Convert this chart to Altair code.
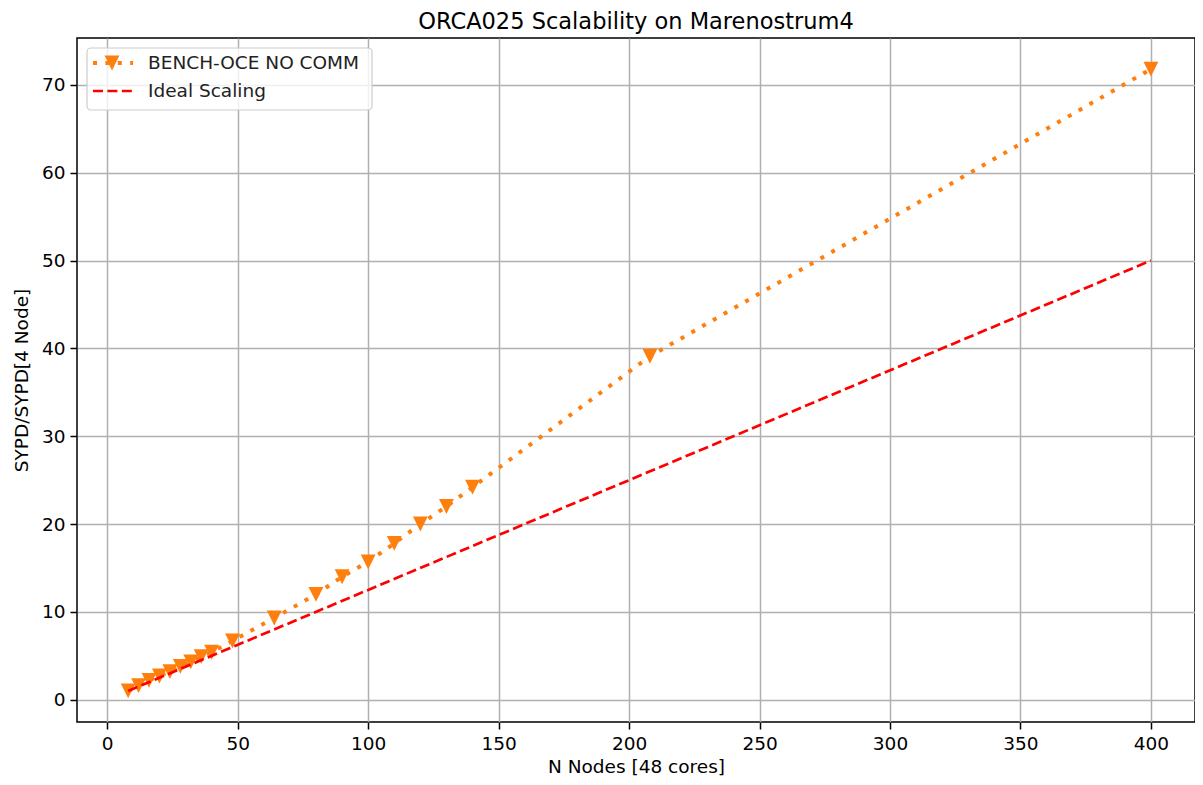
import altair as alt
import pandas as pd

# ---- data ----
nodes = [8, 12, 16, 20, 24, 28, 32, 36, 40, 48, 64, 80, 90, 100, 110, 120, 130, 140, 208, 400]
speedup = [1.0, 1.6, 2.2, 2.7, 3.2, 3.8, 4.3, 4.9, 5.4, 6.7, 9.3, 12.0, 14.0, 15.7, 17.8, 20.0, 22.0, 24.2, 39.1, 71.8]
ideal_nodes = [8, 400]
ideal_speedup = [1.0, 50.0]
x_ticks = [0, 50, 100, 150, 200, 250, 300, 350, 400]
y_ticks = [0, 10, 20, 30, 40, 50, 60, 70]
series_names = ["BENCH-OCE NO COMM", "Ideal Scaling"]

bench = pd.DataFrame({"x": nodes, "y": speedup})
ideal = pd.DataFrame({"x": ideal_nodes, "y": ideal_speedup})

ORANGE = "#ff7f0e"
RED = "#ff0000"
FONT = "DejaVu Sans"
FS = 18.5
TRI = "M0,1L-1,-1L1,-1Z"
TRI_SIZE = 220
DOT_W, DOT_DASH = 4, [4, 8.4]
DASH_W, DASH_DASH = 2.7, [10, 4.4]

xs = alt.Scale(domain=[-11.6, 416.9], nice=False, zero=False)
ys = alt.Scale(domain=[-2.54, 75.34], nice=False, zero=False)

xenc = alt.X("x:Q", scale=xs, title="N Nodes [48 cores]",
             axis=alt.Axis(values=x_ticks, format="d", grid=True))
yenc = alt.Y("y:Q", scale=ys, title="SYPD/SYPD[4 Node]",
             axis=alt.Axis(values=y_ticks, format="d", grid=True))

bench_line = alt.Chart(bench).mark_line(
    color=ORANGE, strokeWidth=DOT_W, strokeDash=DOT_DASH, strokeCap="butt"
).encode(x=xenc, y=yenc)

bench_pts = alt.Chart(bench).mark_point(
    shape=TRI, filled=True, size=TRI_SIZE, color=ORANGE, opacity=1
).encode(x="x:Q", y="y:Q")

ideal_line = alt.Chart(ideal).mark_line(
    color=RED, strokeWidth=DASH_W, strokeDash=DASH_DASH
).encode(x="x:Q", y="y:Q")

# ---- manual legend (upper left) ----
one = pd.DataFrame({"a": [0]})
leg_box = alt.Chart(one).mark_rect(
    fill="white", fillOpacity=0.8, stroke="#cccccc", strokeWidth=1.2, cornerRadius=4
).encode(x=alt.value(10), x2=alt.value(295), y=alt.value(10), y2=alt.value(72))

leg_l1 = alt.Chart(one).mark_rule(
    color=ORANGE, strokeWidth=DOT_W, strokeDash=DOT_DASH, strokeCap="butt"
).encode(x=alt.value(16), x2=alt.value(56), y=alt.value(25))
leg_p1 = alt.Chart(one).mark_point(
    shape=TRI, filled=True, size=TRI_SIZE, color=ORANGE, opacity=1
).encode(x=alt.value(35), y=alt.value(25))
leg_l2 = alt.Chart(one).mark_rule(
    color=RED, strokeWidth=DASH_W, strokeDash=DASH_DASH
).encode(x=alt.value(16), x2=alt.value(56), y=alt.value(53))
leg_t1 = alt.Chart(pd.DataFrame({"t": [series_names[0]]})).mark_text(
    align="left", baseline="middle", font=FONT, fontSize=FS, color="#222222"
).encode(x=alt.value(71), y=alt.value(25), text="t:N")
leg_t2 = alt.Chart(pd.DataFrame({"t": [series_names[1]]})).mark_text(
    align="left", baseline="middle", font=FONT, fontSize=FS, color="#222222"
).encode(x=alt.value(71), y=alt.value(53), text="t:N")

chart = alt.layer(
    bench_line, bench_pts, ideal_line, leg_box, leg_l1, leg_p1, leg_l2, leg_t1, leg_t2
).properties(
    width=1118, height=684,
    title=alt.TitleParams("ORCA025 Scalability on Marenostrum4", font=FONT, fontSize=22.5,
                          fontWeight="normal", color="black", anchor="middle", offset=5),
    autosize=alt.AutoSizeParams(type="none"),
    padding={"left": 69, "top": 30, "right": 0, "bottom": 55},
).configure_view(
    stroke="black", strokeWidth=1.5
).configure_axis(
    labelFont=FONT, titleFont=FONT, labelFontSize=FS, titleFontSize=FS,
    labelColor="black", titleColor="black", titleFontWeight="normal",
    gridColor="#b0b0b0", gridWidth=1.5, gridOpacity=1,
    tickColor="black", tickSize=7, tickWidth=1.5, domain=False, labelPadding=5,
).configure_axisX(titlePadding=5).configure_axisY(titlePadding=10)

chart.save("out.html", embed_options={"renderer": "svg", "actions": False})
